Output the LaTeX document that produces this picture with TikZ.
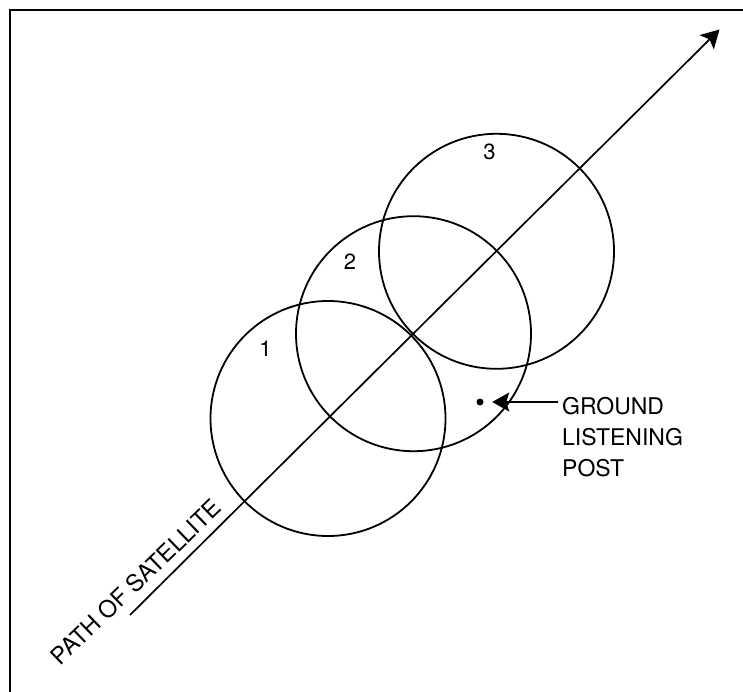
\documentclass[tikz,border=0pt]{standalone}
\usepackage{fontspec}
\setmainfont{TeX Gyre Heros}
\usetikzlibrary{arrows.meta,calc}
\begin{document}
\begin{tikzpicture}[x=1pt,y=-1pt,
  frameline/.style={line width=2.6pt,line cap=rect},
  orbit/.style={circle,draw,line width=1.8pt,minimum size=235pt,inner sep=0pt},
  pathline/.style={line width=1.7pt,-{Stealth[length=18pt,width=20pt,inset=4pt]}},
  postarrow/.style={line width=1.7pt,-{Stealth[length=17pt,width=19pt,inset=3pt]}},
  numlabel/.style={font=\fontsize{22}{26}\selectfont,inner sep=0pt},
  txt/.style={font=\fontsize{23}{31}\selectfont,inner sep=0pt}]
\useasboundingbox (0,0) rectangle (743,691);
% frame (top and left edges)
\coordinate (fbl) at (10,691);
\coordinate (ftl) at (10,10);
\coordinate (ftr) at (743,10);
\draw[frameline] (fbl) -- (ftl) -- (ftr);
% satellite path
\coordinate (pstart) at (130,615);
\coordinate (pend) at (719.5,29.5);
\draw[pathline] (pstart) -- (pend);
% coverage circles
\node[orbit] (c1) at (328,418.5) {};
\node[orbit] (c2) at (413.5,333.7) {};
\node[orbit] (c3) at (496.5,251.3) {};
\node[numlabel] (n1) at (265.5,349) {1};
\node[numlabel] (n2) at (350,262) {2};
\node[numlabel] (n3) at (489.5,152) {3};
% path label
\node[txt,font=\fontsize{23.5}{31}\selectfont,rotate=44] (plabel) at (136,582) {PATH OF SATELLITE};
% ground listening post
\node[circle,fill,inner sep=0pt,minimum size=7pt] (dot) at (480,402) {};
\node[txt,align=left,anchor=north west] (gl) at (562,397) {GROUND\\LISTENING\\POST};
\coordinate (gtail) at (558,402);
\draw[postarrow,shorten >=8.5pt] (gtail) -- (dot.east);
\end{tikzpicture}
\end{document}
